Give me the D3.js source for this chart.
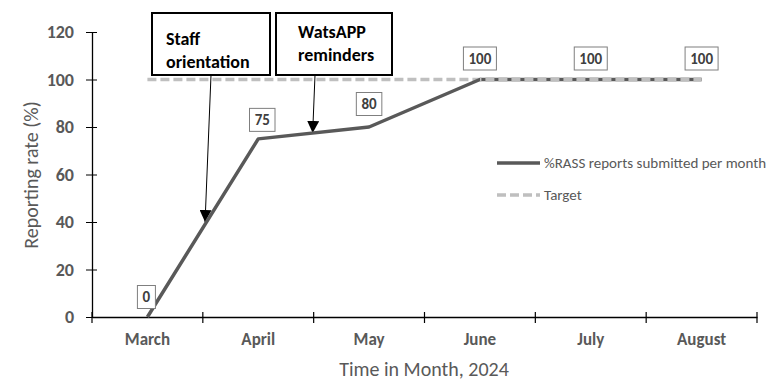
<!DOCTYPE html>
<html><head><meta charset="utf-8">
<script src="https://cdn.jsdelivr.net/npm/d3@7"></script>
<style>body{margin:0;background:#fff}svg{display:block}text{font-family:Carlito,Lato,"Open Sans",sans-serif}</style>
</head><body>
<svg id="c" width="783" height="383"></svg>
<script>
const months = ["March","April","May","June","July","August"];
const reported = [0,75,80,100,100,100];
const target = [100,100,100,100,100,100];
const yTicks = [0,20,40,60,80,100,120];
const annotations = [
  {lines:["Staff","orientation"], month:"March", value:40},
  {lines:["WatsAPP","reminders"], month:"April", value:77.5}
];
const seriesNames = ["%RASS reports submitted per month","Target"];

const svg = d3.select("#c");
const x = d3.scaleBand().domain(months).range([92,757]);
const y = d3.scaleLinear().domain([0,120]).range([317,32]);
const cx = m => x(m)+x.bandwidth()/2;
const grey = "#595959";
const defs = svg.append("defs");

// y axis
const ya = svg.append("g").attr("transform","translate(92,0)")
  .call(d3.axisLeft(y).tickValues(yTicks).tickSize(6).tickSizeOuter(0).tickPadding(12));
ya.select(".domain").attr("stroke","#000").attr("stroke-width",1.3);
ya.selectAll(".tick line").attr("stroke","#000").attr("x2",-6).attr("x1",5);
ya.selectAll("text").attr("fill",grey).style("font-size","18px").style("font-weight","bold").style("font-family","Carlito,Lato,sans-serif");

// x axis
const xa = svg.append("g").attr("transform","translate(0,317)")
  .call(d3.axisBottom(x).tickSize(0).tickPadding(16));
xa.select(".domain").attr("stroke","#000").attr("stroke-width",1.3);
xa.selectAll("text").attr("fill",grey).style("font-size","17px").style("font-weight","bold").style("font-family","Carlito,Lato,sans-serif");
const bounds = months.map(m=>x(m)).concat([x(months[months.length-1])+x.bandwidth()]);
svg.append("g").selectAll("line").data(bounds).join("line")
  .attr("x1",d=>d).attr("x2",d=>d).attr("y1",312).attr("y2",323).attr("stroke","#000").attr("stroke-width",1.2);

// axis titles
svg.append("text").attr("transform","translate(38,175) rotate(-90)").attr("text-anchor","middle")
  .attr("fill",grey).style("font-size","20px").text("Reporting rate (%)");
svg.append("text").attr("x",424).attr("y",376).attr("text-anchor","middle")
  .attr("fill",grey).style("font-size","20px").text("Time in Month, 2024");

// arrowhead
defs.append("marker").attr("id","ah").attr("viewBox","0 0 10 10")
  .attr("refX",10).attr("refY",5).attr("markerWidth",12).attr("markerHeight",12)
  .attr("markerUnits","userSpaceOnUse").attr("orient","auto")
  .append("path").attr("d","M0,0L10,5L0,10Z").attr("fill","#000");

// annotation boxes
const boxW = [118,116];
const boxX = [152,276];
annotations.forEach((a,i)=>{
  const g = svg.append("g");
  g.append("rect").attr("x",boxX[i]).attr("y",13).attr("width",boxW[i]).attr("height",62)
    .attr("fill","#fff").attr("stroke","#000").attr("stroke-width",2);
  const ty = i===0 ? [45,68] : [38,61];
  const tx = i===0 ? 166 : 298;
  a.lines.forEach((l,j)=>g.append("text").attr("x",tx).attr("y",ty[j]).attr("fill","#000")
    .style("font-size","18px").style("font-weight","bold").text(l));
  svg.append("line").attr("x1",i===0?211:315).attr("y1",75)
    .attr("x2",x(a.month)+x.bandwidth()*(i===0?1.02:1.0)-(i===0?0:1)).attr("y2",y(a.value))
    .attr("stroke","#000").attr("stroke-width",1).attr("marker-end","url(#ah)");
});

// target line
const line = d3.line().x((d,i)=>cx(months[i])).y(d=>y(d));
svg.append("path").datum(target).attr("d",line).attr("fill","none")
  .attr("stroke","#BFBFBF").attr("stroke-width",3.5).attr("stroke-dasharray","9,4");

// main series
svg.append("path").datum(reported).attr("d",line).attr("fill","none")
  .attr("stroke",grey).attr("stroke-width",3.5).attr("stroke-linejoin","round");

// target dashes drawn again over the overlapping part
defs.append("clipPath").attr("id","clipT").append("rect")
  .attr("x",cx("June")).attr("y",0).attr("width",400).attr("height",383);
svg.append("path").datum(target).attr("d",line).attr("fill","none")
  .attr("stroke","#BFBFBF").attr("stroke-width",3.5).attr("stroke-dasharray","9,4")
  .attr("clip-path","url(#clipT)");

// data labels
const lab = svg.append("g");
reported.forEach((v,i)=>{
  const px = cx(months[i]) + (i===0?-1:(i===1?4:0));
  const py = i===0 ? y(v)-20 : (i===1? y(v)-19 : (i===2 ? y(v)-23 : y(v)-21));
  const t = String(v);
  const w = t.length*7.5+10.5;
  lab.append("rect").attr("x",px-w/2).attr("y",py-11.5).attr("width",w).attr("height",23)
    .attr("fill","#fff").attr("stroke","#7F7F7F").attr("stroke-width",1);
  lab.append("text").attr("x",px).attr("y",py+5).attr("text-anchor","middle")
    .attr("fill","#404040").style("font-size","15px").style("font-weight","bold").text(t);
});

// legend
const lg = svg.append("g");
lg.append("line").attr("x1",497).attr("x2",540).attr("y1",163).attr("y2",163)
  .attr("stroke",grey).attr("stroke-width",3.5);
lg.append("line").attr("x1",497).attr("x2",540).attr("y1",195).attr("y2",195)
  .attr("stroke","#BFBFBF").attr("stroke-width",3.5).attr("stroke-dasharray","9,4");
lg.append("text").attr("x",544).attr("y",168).attr("fill",grey).style("font-size","15px").text(seriesNames[0]);
lg.append("text").attr("x",544).attr("y",200).attr("fill",grey).style("font-size","15px").text(seriesNames[1]);
</script>
</body></html>
